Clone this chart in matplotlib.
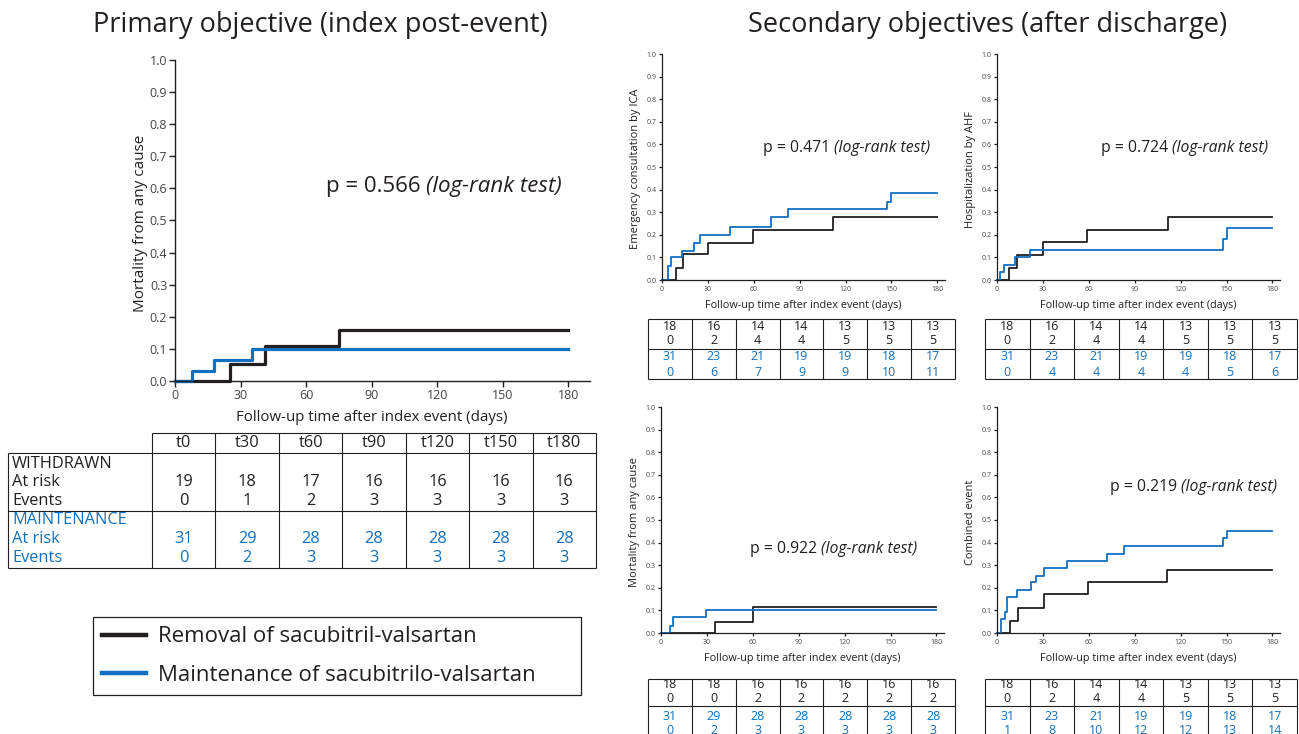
import numpy as np
import matplotlib
matplotlib.use('Agg')
import matplotlib.pyplot as plt
from matplotlib.lines import Line2D

plt.rcParams['font.family'] = ['Open Sans', 'DejaVu Sans']

W, H = 1299, 734
BLACK = '#231f20'
BLUE = '#1170c0'

# ---- primary objective: mortality from any cause (index post-event)
prim_t_wd = [0, 25, 41, 75, 180]
prim_y_wd = [0, 0.053, 0.11, 0.158, 0.158]
prim_t_mt = [0, 7.6, 17.7, 35.2, 180]
prim_y_mt = [0, 0.032, 0.065, 0.10, 0.10]

table_times = ['t0', 't30', 't60', 't90', 't120', 't150', 't180']
prim_risk_wd = [19, 18, 17, 16, 16, 16, 16]
prim_ev_wd = [0, 1, 2, 3, 3, 3, 3]
prim_risk_mt = [31, 29, 28, 28, 28, 28, 28]
prim_ev_mt = [0, 2, 3, 3, 3, 3, 3]

# ---- secondary objectives (after discharge)
ica_t_wd = [0, 8.9, 13.5, 30.3, 59.3, 111.5, 180]
ica_y_wd = [0, 0.055, 0.115, 0.165, 0.22, 0.278, 0.278]
ica_t_mt = [0, 3.9, 5.7, 12.9, 21.2, 24.9, 44.7, 71.4, 82.5, 146.8, 149.5, 180]
ica_y_mt = [0, 0.064, 0.10, 0.13, 0.164, 0.198, 0.236, 0.278, 0.313, 0.344, 0.384, 0.384]

ahf_t_wd = [0, 8, 13, 30, 58.5, 111.5, 180]
ahf_y_wd = [0, 0.055, 0.11, 0.167, 0.22, 0.278, 0.278]
ahf_t_mt = [0, 2, 4.3, 11.7, 21.7, 147.6, 150.2, 180]
ahf_y_mt = [0, 0.034, 0.065, 0.10, 0.134, 0.183, 0.232, 0.232]

mort_t_wd = [0, 35.3, 59.9, 180]
mort_y_wd = [0, 0.05, 0.114, 0.114]
mort_t_mt = [0, 6.1, 7.8, 29.6, 180]
mort_y_mt = [0, 0.032, 0.07, 0.10, 0.10]

comb_t_wd = [0, 8.2, 13.4, 30.4, 59.2, 111, 180]
comb_y_wd = [0, 0.055, 0.111, 0.171, 0.226, 0.279, 0.279]
comb_t_mt = [0, 2.4, 5, 6.5, 13, 22.3, 25.2, 30.8, 45.8, 72, 83, 147.7, 150.3, 180]
comb_y_mt = [0, 0.06, 0.094, 0.159, 0.19, 0.226, 0.253, 0.287, 0.32, 0.35, 0.386, 0.42, 0.45, 0.45]

ica_risk_wd = [18, 16, 14, 14, 13, 13, 13]
ica_ev_wd = [0, 2, 4, 4, 5, 5, 5]
ica_risk_mt = [31, 23, 21, 19, 19, 18, 17]
ica_ev_mt = [0, 6, 7, 9, 9, 10, 11]

ahf_risk_wd = [18, 16, 14, 14, 13, 13, 13]
ahf_ev_wd = [0, 2, 4, 4, 5, 5, 5]
ahf_risk_mt = [31, 23, 21, 19, 19, 18, 17]
ahf_ev_mt = [0, 4, 4, 4, 4, 5, 6]

mort_risk_wd = [18, 18, 16, 16, 16, 16, 16]
mort_ev_wd = [0, 0, 2, 2, 2, 2, 2]
mort_risk_mt = [31, 29, 28, 28, 28, 28, 28]
mort_ev_mt = [0, 2, 3, 3, 3, 3, 3]

comb_risk_wd = [18, 16, 14, 14, 13, 13, 13]
comb_ev_wd = [0, 2, 4, 4, 5, 5, 5]
comb_risk_mt = [31, 23, 21, 19, 19, 18, 17]
comb_ev_mt = [1, 8, 10, 12, 12, 13, 14]

xticks = [0, 30, 60, 90, 120, 150, 180]
yticks = np.round(np.arange(0, 1.01, 0.1), 1)
xlabel = 'Follow-up time after index event (days)'


fig = plt.figure(figsize=(W / 100, H / 100), dpi=100)

# overlay in pixel coordinates for titles and tables
ov = fig.add_axes([0, 0, 1, 1])
ov.set_xlim(0, W)
ov.set_ylim(H, 0)
ov.axis('off')


def px_axes(left, top, right, bottom):
    return fig.add_axes([left / W, 1 - bottom / H, (right - left) / W, (bottom - top) / H])


def style_axes(ax, xmax, ticklen, tickfs, spinelw):
    ax.set_xlim(0, xmax)
    ax.set_ylim(0, 1)
    ax.spines['top'].set_visible(False)
    ax.spines['right'].set_visible(False)
    for s in ('left', 'bottom'):
        ax.spines[s].set_color(BLACK)
        ax.spines[s].set_linewidth(spinelw)
    ax.set_xticks(xticks)
    ax.set_yticks(yticks)
    ax.set_yticklabels(['%.1f' % v for v in yticks])
    ax.tick_params(direction='out', length=ticklen, width=spinelw, color=BLACK,
                   labelsize=tickfs, labelcolor='#444444', pad=1.5)
    ax.patch.set_alpha(0)


def pvalue(ax, x, y, ptxt, fs):
    t1 = ax.text(x, y, 'p = ' + ptxt + ' ', fontsize=fs, color=BLACK, va='center', ha='left')
    ax.annotate('(log-rank test)', xycoords=t1, xy=(1, 0.5), va='center', ha='left',
                fontsize=fs, style='italic', color=BLACK)


# ---------------- primary plot
ax = px_axes(175, 60, 590, 381)
style_axes(ax, 190, 4, 9, 1.0)
ax.step(prim_t_wd, prim_y_wd, where='post', color=BLACK, lw=2.3, clip_on=False)
ax.step(prim_t_mt, prim_y_mt, where='post', color=BLUE, lw=2.3, clip_on=False)
ax.set_xlabel(xlabel, fontsize=10.8, color=BLACK)
ax.xaxis.set_label_coords(90 / 190, -0.115)
ax.xaxis.label.set_va('center')
ax.set_ylabel('Mortality from any cause', fontsize=11, color=BLACK)
ax.yaxis.set_label_coords(-0.084, 0.49)
ax.yaxis.label.set_va('center')
pvalue(ax, 69, 0.605, '0.566', 16)

ov.text(320, 25, 'Primary objective (index post-event)', fontsize=19.5, ha='center',
        va='center', color=BLACK)
ov.text(988, 25, 'Secondary objectives (after discharge)', fontsize=19.5, ha='center',
        va='center', color=BLACK)

# primary table
tcols = np.linspace(152, 596, 8)
tmid = (tcols[:-1] + tcols[1:]) / 2
lk = dict(color=BLACK, lw=0.8)
ov.hlines(433, 152, 596, **lk)
ov.hlines([453, 511, 568], 8, 596, **lk)
ov.vlines(8, 453, 568, **lk)
ov.vlines(tcols, 433, 568, **lk)
fs = 11.8
for i, lab in enumerate(table_times):
    ov.text(tmid[i], 443, lab, fontsize=fs, ha='center', va='center', color=BLACK)
ov.text(12, 464, 'WITHDRAWN', fontsize=fs, va='center', color=BLACK)
ov.text(12, 482, 'At risk', fontsize=fs, va='center', color=BLACK)
ov.text(12, 501, 'Events', fontsize=fs, va='center', color=BLACK)
ov.text(12, 520, 'MAINTENANCE', fontsize=fs, va='center', color=BLUE)
ov.text(12, 539, 'At risk', fontsize=fs, va='center', color=BLUE)
ov.text(12, 558, 'Events', fontsize=fs, va='center', color=BLUE)
for i in range(7):
    ov.text(tmid[i], 482, str(prim_risk_wd[i]), fontsize=fs, ha='center', va='center', color=BLACK)
    ov.text(tmid[i], 501, str(prim_ev_wd[i]), fontsize=fs, ha='center', va='center', color=BLACK)
    ov.text(tmid[i], 539, str(prim_risk_mt[i]), fontsize=fs, ha='center', va='center', color=BLUE)
    ov.text(tmid[i], 558, str(prim_ev_mt[i]), fontsize=fs, ha='center', va='center', color=BLUE)

# legend
handles = [Line2D([], [], color=BLACK, lw=3.2), Line2D([], [], color=BLUE, lw=3.2)]
leg = fig.legend(handles, ['Removal of sacubitril-valsartan', 'Maintenance of sacubitrilo-valsartan'],
                 loc='upper left', bbox_to_anchor=(93 / W, 1 - 617 / H, (581 - 93) / W, 0),
                 bbox_transform=fig.transFigure, mode='expand', fontsize=16,
                 frameon=True, fancybox=False, edgecolor=BLACK, framealpha=1,
                 handlelength=1.95, handletextpad=0.55, borderpad=0.42, labelspacing=0.8,
                 borderaxespad=0)
leg.get_frame().set_linewidth(0.9)
for t in leg.get_texts():
    t.set_color(BLACK)


# ---------------- secondary plots
def small_plot(left, top, bottom, tw, yw, tm, ym, ylab, ptxt, px, py):
    a = px_axes(left, top, left + 185 * 1.53, bottom)
    style_axes(a, 185, 2.5, 5, 0.9)
    a.step(tw, yw, where='post', color=BLACK, lw=1.3, clip_on=False)
    a.step(tm, ym, where='post', color=BLUE, lw=1.3, clip_on=False)
    a.set_xlabel(xlabel, fontsize=7.8, color=BLACK)
    a.xaxis.set_label_coords(0.5, -0.115)
    a.xaxis.label.set_va('center')
    a.set_ylabel(ylab, fontsize=8, color=BLACK)
    a.yaxis.set_label_coords(-0.095, 0.49)
    a.yaxis.label.set_va('center')
    pvalue(a, px, py, ptxt, 11.3)
    return a


def small_table(x0, x1, ytop, ymid, ybot, rows_y, rw, ew, rm, em):
    cols = np.linspace(x0, x1, 8)
    mids = (cols[:-1] + cols[1:]) / 2
    ov.hlines([ytop, ymid, ybot], x0, x1, **lk)
    ov.vlines(cols, ytop, ybot, **lk)
    for i in range(7):
        ov.text(mids[i], rows_y[0], str(rw[i]), fontsize=9, ha='center', va='center', color=BLACK)
        ov.text(mids[i], rows_y[1], str(ew[i]), fontsize=9, ha='center', va='center', color=BLACK)
        ov.text(mids[i], rows_y[2], str(rm[i]), fontsize=9, ha='center', va='center', color=BLUE)
        ov.text(mids[i], rows_y[3], str(em[i]), fontsize=9, ha='center', va='center', color=BLUE)


small_plot(662, 54, 280, ica_t_wd, ica_y_wd, ica_t_mt, ica_y_mt,
           'Emergency consultation by ICA', '0.471', 66, 0.585)
small_plot(997, 54, 280, ahf_t_wd, ahf_y_wd, ahf_t_mt, ahf_y_mt,
           'Hospitalization by AHF', '0.724', 68, 0.585)
small_plot(661, 407, 633, mort_t_wd, mort_y_wd, mort_t_mt, mort_y_mt,
           'Mortality from any cause', '0.922', 58, 0.373)
small_plot(997, 407, 633, comb_t_wd, comb_y_wd, comb_t_mt, comb_y_mt,
           'Combined event', '0.219', 74, 0.646)

small_table(648, 955, 319, 349, 379, [326, 341, 357, 372],
            ica_risk_wd, ica_ev_wd, ica_risk_mt, ica_ev_mt)
small_table(985, 1297, 319, 349, 379, [326, 341, 357, 372],
            ahf_risk_wd, ahf_ev_wd, ahf_risk_mt, ahf_ev_mt)
small_table(648, 955, 679, 706, 736, [685, 699, 716, 731],
            mort_risk_wd, mort_ev_wd, mort_risk_mt, mort_ev_mt)
small_table(985, 1297, 679, 706, 736, [685, 699, 716, 731],
            comb_risk_wd, comb_ev_wd, comb_risk_mt, comb_ev_mt)

fig.savefig('out.png', dpi=100)
